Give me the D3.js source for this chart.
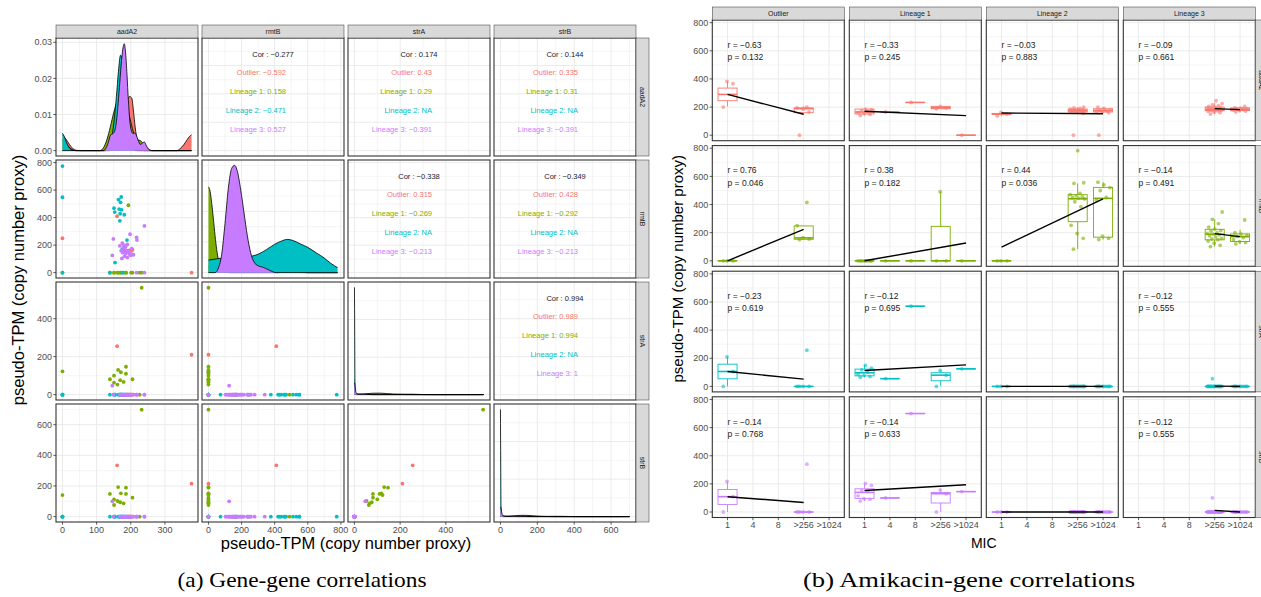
<!DOCTYPE html>
<html>
<head>
<meta charset="utf-8">
<script src="https://d3js.org/d3.v7.min.js"></script>
<style>
body { margin: 0; background: #fff; }
text { font-family: "Liberation Sans", Arial, sans-serif; }
</style>
</head>
<body>
<svg id="fig" width="1261" height="597"></svg>
<script>

// ---------------- data: (a) gene-gene ----------------
var genes = ['aadA2', 'rmtB', 'strA', 'strB'];
var lineages = ['Outlier', 'Lineage 1', 'Lineage 2', 'Lineage 3'];
var lineageColors = ['#F8766D', '#7CAE00', '#00BFC4', '#C77CFF'];
var geneMax = [378, 780, 565, 700];
var geneTicks = [[0, 100, 200, 300], [0, 200, 400, 600, 800], [0, 200, 400], [0, 200, 400, 600]];

// samples: [aadA2, rmtB, strA, strB]
var outlierSamples = [[378, 0, 210, 215], [160, 410, 255, 335], [0, 250, 0, 0], [190, 155, 0, 0],
  [195, 162, 0, 0], [200, 150, 0, 0], [205, 165, 0, 0]];
var lineage1Samples = [[0, 0, 123, 141], [232, 0, 563, 698], [139, 0, 81, 148], [151, 0, 100, 113],
  [151, 0, 63, 76], [163, 0, 130, 193], [161, 0, 53, 102], [171, 0, 118, 152], [186, 0, 147, 189],
  [186, 0, 110, 148], [169, 0, 76, 94], [179, 0, 67, 87], [205, 0, 81, 124], [193, 490, 0, 0],
  [201, 0, 0, 0], [226, 0, 0, 0]];
var lineage2Samples = [[0, 775, 0, 0], [0, 548, 0, 0], [172, 550, 0, 0], [164, 531, 0, 0], [170, 511, 0, 0],
  [151, 469, 0, 0], [166, 462, 0, 0], [173, 457, 0, 0], [153, 440, 0, 0], [169, 428, 0, 0], [181, 421, 0, 0],
  [168, 377, 0, 0], [189, 237, 0, 0], [182, 164, 0, 0], [175, 170, 0, 0], [154, 73, 0, 0], [139, 0, 0, 0],
  [176, 0, 0, 0], [0, 0, 0, 0]];
var lineage3Samples = [[240, 340, 0, 0], [198, 279, 0, 0], [217, 257, 0, 0], [218, 237, 0, 0], [149, 245, 0, 0],
  [174, 103, 0, 0], [175, 215, 0, 0], [180, 200, 0, 0], [185, 190, 0, 0], [190, 205, 0, 0], [178, 180, 0, 0],
  [183, 170, 0, 0], [188, 160, 0, 0], [193, 150, 0, 0], [198, 145, 0, 0], [203, 175, 0, 0], [196, 135, 0, 0],
  [172, 160, 0, 0], [185, 140, 0, 0], [200, 125, 0, 0], [208, 130, 0, 0], [168, 195, 0, 0], [176, 145, 0, 0],
  [182, 120, 0, 0], [190, 110, 0, 0], [146, 125, 47, 100], [217, 0, 0, 0], [240, 0, 0, 0]];

// densities on the diagonal: [value, density]
var aadA2DensOut = [[0, 0.0042], [10, 0.0032], [20, 0.0018], [30, 0.0006], [40, 0.0001], [55, 0], [140, 0],
  [150, 0.0015], [160, 0.004], [170, 0.0075], [180, 0.011], [190, 0.0142], [197, 0.015], [203, 0.0145],
  [208, 0.011], [213, 0.0065], [220, 0.0025], [230, 0.0006], [240, 0], [335, 0], [345, 0.0006], [355, 0.0016],
  [365, 0.003], [372, 0.0039], [378, 0.0044]];
var aadA2DensL1 = [[0, 0.003], [10, 0.002], [25, 0.0005], [40, 0], [110, 0], [120, 0.0008], [130, 0.003],
  [140, 0.0065], [150, 0.0105], [160, 0.0135], [170, 0.015], [180, 0.0145], [190, 0.012], [200, 0.008],
  [210, 0.0045], [220, 0.003], [228, 0.0028], [236, 0.002], [245, 0.001], [255, 0.0002], [265, 0], [378, 0]];
var aadA2DensL2 = [[0, 0.0048], [6, 0.0038], [12, 0.0022], [20, 0.0008], [30, 0.0001], [40, 0], [125, 0],
  [135, 0.001], [145, 0.004], [152, 0.009], [158, 0.015], [164, 0.022], [170, 0.0264], [175, 0.0255],
  [180, 0.021], [186, 0.013], [192, 0.006], [200, 0.0018], [210, 0.0002], [220, 0], [378, 0]];
var aadA2DensL3 = [[0, 0], [120, 0], [128, 0.0008], [135, 0.0025], [140, 0.0042], [146, 0.0046], [152, 0.0052],
  [158, 0.008], [163, 0.013], [168, 0.019], [173, 0.025], [178, 0.0288], [181, 0.0296], [185, 0.027],
  [189, 0.021], [193, 0.014], [197, 0.0085], [201, 0.0058], [206, 0.0048], [211, 0.0049], [216, 0.0043],
  [222, 0.0028], [228, 0.0017], [234, 0.0021], [240, 0.0024], [246, 0.0013], [252, 0.0004], [260, 0], [378, 0]];

// rmtB densities in units of 1e-3
var rmtBDensOut = [[0, 0.4], [80, 0.3], [160, 0.8], [250, 0.6], [410, 0.4], [500, 0.1], [600, 0], [780, 0]];
var rmtBDensL1 = [[0, 5.6], [10, 5.3], [20, 4.5], [30, 3.5], [40, 2.4], [50, 1.5], [60, 0.85], [80, 0.2],
  [100, 0.03], [130, 0], [420, 0], [460, 0.15], [490, 0.3], [560, 0.05], [600, 0], [780, 0]];
var rmtBDensL2 = [[0, 0.82], [50, 0.9], [100, 0.95], [150, 0.95], [200, 1.0], [250, 1.05], [300, 1.2],
  [350, 1.5], [400, 1.85], [450, 2.1], [476, 2.17], [510, 2.1], [560, 1.85], [600, 1.65], [650, 1.3],
  [700, 0.95], [740, 0.6], [780, 0.33]];
var rmtBDensL3 = [[0, 0], [40, 0], [60, 0.3], [80, 1.2], [100, 3.2], [120, 5.5], [140, 6.8], [158, 7.0],
  [175, 6.6], [195, 5.4], [215, 3.9], [235, 2.4], [255, 1.3], [275, 0.7], [300, 0.45], [330, 0.35],
  [360, 0.2], [390, 0.05], [410, 0], [780, 0]];

// strA / strB densities, relative to the spike at zero
var strADensOut = [[0, 0.006], [30, 0.004], [80, 0.001], [150, 0.002], [210, 0.004], [255, 0.004], [300, 0.001], [350, 0], [565, 0]];
var strADensL1 = [[0, 0.004], [20, 0.004], [50, 0.008], [80, 0.013], [110, 0.014], [140, 0.01], [170, 0.005], [220, 0.001], [300, 0], [540, 0.0005], [565, 0.001]];
var strADensL2 = [[0, 1], [1, 0.6], [2, 0.15], [3, 0.02], [5, 0], [565, 0]];
var strADensL3 = [[0, 0.11], [3, 0.08], [6, 0.03], [10, 0.008], [20, 0.003], [40, 0.004], [55, 0.002], [80, 0], [565, 0]];
var strBDensOut = [[0, 0.006], [40, 0.003], [100, 0.0005], [200, 0.002], [280, 0.003], [335, 0.003], [400, 0.0005], [450, 0], [700, 0]];
var strBDensL1 = [[0, 0.003], [40, 0.004], [80, 0.009], [110, 0.012], [140, 0.012], [170, 0.009], [200, 0.005], [250, 0.001], [300, 0], [650, 0], [700, 0.001]];
var strBDensL2 = [[0, 1], [1.5, 0.5], [3, 0.1], [5, 0.01], [8, 0], [700, 0]];
var strBDensL3 = [[0, 0.09], [4, 0.07], [8, 0.03], [14, 0.008], [30, 0.002], [100, 0.003], [130, 0.001], [160, 0], [700, 0]];

var diagMax = [0.0297, 7.0, 1, 1];
var diagTicks = [[0, 0.01, 0.02, 0.03], [0, 2, 4, 6], [0, 0.35, 0.7], [0, 0.35, 0.7]];

// upper triangle: [row, col, overall, outlier, lineage 1, lineage 2, lineage 3]
var corTable = [
  [0, 1, '\u22120.277', '\u22120.592', '0.158', '\u22120.471', '0.527'],
  [0, 2, '0.174', '0.43', '0.29', 'NA', '\u22120.391'],
  [0, 3, '0.144', '0.335', '0.31', 'NA', '\u22120.391'],
  [1, 2, '\u22120.338', '0.315', '\u22120.269', 'NA', '\u22120.213'],
  [1, 3, '\u22120.349', '0.428', '\u22120.292', 'NA', '\u22120.213'],
  [2, 3, '0.994', '0.989', '0.994', 'NA', '1']
];

// ---------------- data: (b) amikacin-gene ----------------
var micLevels = ['1', '4', '8', '>256', '>1024'];
var clusters = ['Outlier', 'Lineage 1', 'Lineage 2', 'Lineage 3'];
var yTicksB = [0, 200, 400, 600, 800];

// boxes: [cluster, mic, lower, q1, median, q3, upper]
var boxes_aadA2 = [[0, 0, 205, 245, 290, 335, 382], [0, 3, 158, 160, 189, 194, 205],
  [1, 0, 140, 151, 165, 186, 186], [1, 1, 165, 165, 165, 165, 165], [1, 2, 233, 233, 233, 233, 233],
  [1, 3, 188, 188, 195, 205, 205], [1, 4, 0, 0, 0, 0, 0],
  [2, 0, 137, 147, 151, 155, 163], [2, 3, 150, 165, 175, 186, 200], [2, 4, 160, 165, 175, 188, 200],
  [3, 3, 150, 175, 183, 200, 230], [3, 4, 165, 175, 184, 194, 205]];
var boxes_rmtB = [[0, 0, 0, 0, 0, 0, 0], [0, 3, 150, 153, 163, 248, 250],
  [1, 0, 0, 0, 0, 0, 0], [1, 1, 0, 0, 0, 0, 0], [1, 2, 0, 0, 0, 0, 0], [1, 3, 0, 0, 0, 245, 491], [1, 4, 0, 0, 0, 0, 0],
  [2, 0, 0, 0, 0, 0, 0], [2, 3, 83, 278, 441, 470, 550], [2, 4, 151, 168, 444, 522, 559],
  [3, 3, 101, 149, 189, 224, 295], [3, 4, 120, 137, 172, 191, 220]];
var boxes_strA = [[0, 0, 0, 54, 106, 158, 210], [0, 3, 0, 0, 0, 0, 0],
  [1, 0, 65, 75, 97, 123, 153], [1, 1, 55, 55, 55, 55, 55], [1, 2, 570, 570, 570, 570, 570],
  [1, 3, 0, 40, 80, 97, 113], [1, 4, 125, 125, 125, 125, 125],
  [2, 0, 0, 0, 0, 0, 0], [2, 3, 0, 0, 0, 0, 0], [2, 4, 0, 0, 0, 0, 0],
  [3, 3, 0, 0, 0, 0, 0], [3, 4, 0, 0, 0, 0, 0]];
var boxes_strB = [[0, 0, 0, 54, 109, 160, 217], [0, 3, 0, 0, 0, 0, 0],
  [1, 0, 78, 97, 139, 165, 203], [1, 1, 100, 100, 100, 100, 100], [1, 2, 700, 700, 700, 700, 700],
  [1, 3, 0, 64, 130, 139, 158], [1, 4, 145, 145, 145, 145, 145],
  [2, 0, 0, 0, 0, 0, 0], [2, 3, 0, 0, 0, 0, 0], [2, 4, 0, 0, 0, 0, 0],
  [3, 3, 0, 0, 0, 0, 0], [3, 4, 0, 0, 0, 0, 0]];

// jittered points: [cluster, mic, values]
var pts_aadA2 = [[0, 0, [200, 366, 382]], [0, 3, [0, 165, 185, 195, 200]],
  [1, 0, [140, 148, 155, 160, 168, 175, 180, 186]], [1, 1, [165]], [1, 2, [233]], [1, 3, [188, 195, 205]], [1, 4, [0]],
  [2, 0, [137, 150, 163]],
  [2, 3, [0, 155, 163, 168, 170, 172, 175, 176, 178, 180, 182, 185, 190, 195, 200]],
  [2, 4, [0, 160, 168, 172, 175, 178, 182, 190, 200]],
  [3, 3, [150, 160, 165, 170, 172, 175, 178, 180, 182, 184, 186, 188, 190, 193, 196, 200, 205, 210, 215, 225, 245]],
  [3, 4, [165, 172, 175, 178, 182, 185, 188, 190, 195, 205]]];
var pts_rmtB = [[0, 0, [0, 0, 0]], [0, 3, [150, 155, 165, 250, 415]],
  [1, 0, [0, 0, 0, 0, 0, 0, 0, 0]], [1, 1, [0]], [1, 2, [0]], [1, 3, [0, 0, 491]], [1, 4, [0]],
  [2, 0, [0, 0, 0]],
  [2, 3, [83, 160, 194, 252, 385, 420, 440, 445, 450, 455, 462, 470, 480, 550, 555, 783]],
  [2, 4, [151, 160, 175, 430, 450, 500, 520, 540, 559]],
  [3, 3, [101, 110, 125, 140, 150, 155, 160, 170, 178, 185, 190, 195, 200, 210, 215, 225, 240, 265, 295, 347]],
  [3, 4, [120, 130, 137, 150, 165, 172, 180, 190, 200, 290]]];
var pts_strA = [[0, 0, [0, 106, 210]], [0, 3, [0, 0, 0, 0, 257]],
  [1, 0, [65, 70, 78, 85, 100, 118, 130, 150]], [1, 1, [55]], [1, 2, [570]], [1, 3, [0, 80, 113]], [1, 4, [125]],
  [2, 0, [0, 0, 0]], [2, 3, [0, 0, 0, 0, 0, 0, 0, 0, 0, 0, 0, 0, 0, 0, 0]], [2, 4, [0, 0, 0, 0, 0, 0, 0, 0, 0]],
  [3, 3, [0, 0, 0, 0, 0, 0, 0, 0, 0, 0, 0, 0, 0, 0, 0, 0, 0, 0, 55]], [3, 4, [0, 0, 0, 0, 0, 0, 0, 0, 0]]];
var pts_strB = [[0, 0, [0, 109, 217]], [0, 3, [0, 0, 0, 0, 340]],
  [1, 0, [78, 90, 95, 115, 148, 152, 190, 203]], [1, 1, [100]], [1, 2, [700]], [1, 3, [0, 130, 158]], [1, 4, [145]],
  [2, 0, [0, 0, 0]], [2, 3, [0, 0, 0, 0, 0, 0, 0, 0, 0, 0, 0, 0, 0, 0, 0]], [2, 4, [0, 0, 0, 0, 0, 0, 0, 0, 0]],
  [3, 3, [0, 0, 0, 0, 0, 0, 0, 0, 0, 0, 0, 0, 0, 0, 0, 0, 0, 0, 101]], [3, 4, [0, 0, 0, 0, 0, 0, 0, 0, 0]]];

// linear fit: [cluster, micFrom, yFrom, micTo, yTo]
var fit_aadA2 = [[0, 0, 290, 3, 149], [1, 0, 170, 4, 139], [2, 0, 158, 4, 153], [3, 3, 189, 4, 182]];
var fit_rmtB = [[0, 0, 0, 3, 224], [1, 0, 0, 4, 127], [2, 0, 97, 4, 441], [3, 3, 193, 4, 172]];
var fit_strA = [[0, 0, 106, 3, 52], [1, 0, 113, 4, 153], [2, 0, 0, 4, 0], [3, 3, 2, 4, 0]];
var fit_strB = [[0, 0, 109, 3, 68], [1, 0, 153, 4, 194], [2, 0, 0, 4, 0], [3, 3, 12, 4, 0]];

// [cluster, r, p]
var stats_aadA2 = [[0, '\u22120.63', '0.132'], [1, '\u22120.33', '0.245'], [2, '\u22120.03', '0.883'], [3, '\u22120.09', '0.661']];
var stats_rmtB = [[0, '0.76', '0.046'], [1, '0.38', '0.182'], [2, '0.44', '0.036'], [3, '\u22120.14', '0.491']];
var stats_strA = [[0, '\u22120.23', '0.619'], [1, '\u22120.12', '0.695'], [3, '\u22120.12', '0.555']];
var stats_strB = [[0, '\u22120.14', '0.768'], [1, '\u22120.14', '0.633'], [3, '\u22120.12', '0.555']];

// ---------------- helpers ----------------
var svg = d3.select('#fig');
var tickFont = 9, tickCol = '#4d4d4d', lineCol = '#333333', gridCol = '#ebebeb';

function expand(lo, hi) { var d = (hi - lo) * 0.05; return [lo - d, hi + d]; }
function minorsOf(ticks, dom) {
  var step = ticks[1] - ticks[0], out = [];
  for (var v = ticks[0] - step / 2; v <= dom[1] + 1e-12; v += step) if (v >= dom[0]) out.push(v);
  return out;
}
function drawGrid(g, xs, ys, xt, yt, w, h, xMinor) {
  var yDom = ys.domain();
  g.selectAll(null).data(minorsOf(yt, yDom)).enter().append('line')
    .attr('x1', 0).attr('x2', w).attr('y1', ys).attr('y2', ys)
    .attr('stroke', gridCol).attr('stroke-width', 0.5);
  if (xMinor) {
    g.selectAll(null).data(minorsOf(xt, xs.domain())).enter().append('line')
      .attr('y1', 0).attr('y2', h).attr('x1', xs).attr('x2', xs)
      .attr('stroke', gridCol).attr('stroke-width', 0.5);
  }
  g.selectAll(null).data(yt).enter().append('line')
    .attr('x1', 0).attr('x2', w).attr('y1', ys).attr('y2', ys)
    .attr('stroke', gridCol).attr('stroke-width', 1);
  g.selectAll(null).data(xt).enter().append('line')
    .attr('y1', 0).attr('y2', h).attr('x1', xs).attr('x2', xs)
    .attr('stroke', gridCol).attr('stroke-width', 1);
}
function frame(g, w, h) {
  g.append('rect').attr('width', w).attr('height', h)
    .attr('fill', 'none').attr('stroke', lineCol).attr('stroke-width', 1.1);
}
function strip(parent, x, y, w, h, label, vertical) {
  parent.append('rect').attr('x', x).attr('y', y).attr('width', w).attr('height', h)
    .attr('fill', '#d9d9d9').attr('stroke', lineCol).attr('stroke-width', 0.5);
  var t = parent.append('text').text(label).attr('font-size', 7).attr('fill', '#1a1a1a')
    .attr('text-anchor', 'middle').attr('dy', '0.35em');
  if (vertical) t.attr('transform', 'translate(' + (x + w / 2) + ',' + (y + h / 2) + ') rotate(90)');
  else t.attr('x', x + w / 2).attr('y', y + h / 2);
}

// ---------------- (a) gene-gene correlations ----------------
var LP = { x0: 56, y0: 38, w: 142, h: 118, gap: 4 };
function lx(c) { return LP.x0 + c * (LP.w + LP.gap); }
function ly(r) { return LP.y0 + r * (LP.h + LP.gap); }
var lineageSamples = [outlierSamples, lineage1Samples, lineage2Samples, lineage3Samples];
var diagDens = [
  [aadA2DensOut, aadA2DensL1, aadA2DensL2, aadA2DensL3],
  [rmtBDensOut, rmtBDensL1, rmtBDensL2, rmtBDensL3],
  [strADensOut, strADensL1, strADensL2, strADensL3],
  [strBDensOut, strBDensL1, strBDensL2, strBDensL3]
];
var geneDomain = geneMax.map(function (m) { return expand(0, m); });
var left = svg.append('g');

genes.forEach(function (rg, r) {
  genes.forEach(function (cg, c) {
    var g = left.append('g').attr('transform', 'translate(' + lx(c) + ',' + ly(r) + ')');
    g.append('rect').attr('width', LP.w).attr('height', LP.h).attr('fill', '#fff');
    var xs = d3.scaleLinear().domain(geneDomain[c]).range([0, LP.w]);
    var ys, yt;
    if (r === c) {
      ys = d3.scaleLinear().domain(expand(0, diagMax[r])).range([LP.h, 0]);
      yt = diagTicks[r];
    } else {
      ys = d3.scaleLinear().domain(geneDomain[r]).range([LP.h, 0]);
      yt = geneTicks[r];
    }
    drawGrid(g, xs, ys, geneTicks[c], yt, LP.w, LP.h, true);

    if (r === c) {
      var area = d3.area().x(function (d) { return xs(d[0]); }).y0(ys(0))
        .y1(function (d) { return ys(d[1]); }).curve(d3.curveMonotoneX);
      var line = d3.line().x(function (d) { return xs(d[0]); })
        .y(function (d) { return ys(d[1]); }).curve(d3.curveMonotoneX);
      diagDens[r].forEach(function (dens, k) {
        g.append('path').attr('d', area(dens)).attr('fill', lineageColors[k]);
        g.append('path').attr('d', line(dens)).attr('fill', 'none')
          .attr('stroke', '#000').attr('stroke-width', 0.8);
      });
    } else if (r > c) {
      lineageSamples.forEach(function (arr, k) {
        g.selectAll(null).data(arr).enter().append('circle')
          .attr('cx', function (d) { return xs(d[c]); })
          .attr('cy', function (d) { return ys(d[r]); })
          .attr('r', 1.9).attr('fill', lineageColors[k]);
      });
    } else {
      var row = corTable.filter(function (d) { return d[0] === r && d[1] === c; })[0];
      var cx = LP.w / 2;
      g.append('text').attr('x', cx).attr('y', 16).attr('dy', '0.35em')
        .attr('text-anchor', 'middle').attr('font-size', 7.5).attr('fill', '#1a1a1a')
        .text('Cor : ' + row[2]);
      lineages.forEach(function (ln, k) {
        g.append('text').attr('x', cx + 13).attr('y', 16 + 18.8 * (k + 1)).attr('dy', '0.35em')
          .attr('text-anchor', 'end').attr('font-size', 7.5).attr('fill', lineageColors[k])
          .text(ln + ': ' + row[3 + k]);
      });
    }
    frame(g, LP.w, LP.h);

    // axes
    if (c === 0) {
      var fmt = r === 0 ? d3.format('.2f') : d3.format('d');
      g.selectAll(null).data(yt).enter().append('line')
        .attr('x1', -2.7).attr('x2', 0).attr('y1', ys).attr('y2', ys)
        .attr('stroke', lineCol).attr('stroke-width', 0.8);
      g.selectAll(null).data(yt).enter().append('text')
        .attr('x', -4).attr('y', ys).attr('dy', '0.35em').attr('text-anchor', 'end')
        .attr('font-size', tickFont).attr('fill', tickCol).text(fmt);
    }
    if (r === 3) {
      g.selectAll(null).data(geneTicks[c]).enter().append('line')
        .attr('y1', LP.h).attr('y2', LP.h + 2.7).attr('x1', xs).attr('x2', xs)
        .attr('stroke', lineCol).attr('stroke-width', 0.8);
      g.selectAll(null).data(geneTicks[c]).enter().append('text')
        .attr('x', xs).attr('y', LP.h + 4).attr('dy', '0.75em').attr('text-anchor', 'middle')
        .attr('font-size', tickFont).attr('fill', tickCol).text(function (d) { return d; });
    }
  });
  strip(left, lx(r), LP.y0 - 13, LP.w, 13, rg, false);
  strip(left, lx(3) + LP.w, ly(r), 13, LP.h, rg, true);
});

left.append('text').attr('x', (lx(0) + lx(3) + LP.w) / 2).attr('y', 549)
  .attr('text-anchor', 'middle').attr('font-size', 16.5).attr('fill', '#000')
  .text('pseudo-TPM (copy number proxy)');
left.append('text').attr('transform', 'translate(24,' + (LP.y0 + ly(3) + LP.h) / 2 + ') rotate(-90)')
  .attr('text-anchor', 'middle').attr('font-size', 16.5).attr('fill', '#000')
  .text('pseudo-TPM (copy number proxy)');

// ---------------- (b) amikacin-gene correlations ----------------
var RP = { x0: 712.3, y0: 20, w: 132, h: 120.7, dx: 137, dy: 125.6 };
var ry = d3.scaleLinear().domain(expand(0, 780)).range([RP.h, 0]);
var rx = d3.scalePoint().domain(d3.range(micLevels.length)).range([0, RP.w]).padding(0.6);
var bw = rx.step() * 0.75;
var geneBoxes = [boxes_aadA2, boxes_rmtB, boxes_strA, boxes_strB];
var genePts = [pts_aadA2, pts_rmtB, pts_strA, pts_strB];
var geneFits = [fit_aadA2, fit_rmtB, fit_strA, fit_strB];
var geneStats = [stats_aadA2, stats_rmtB, stats_strA, stats_strB];
var right = svg.append('g');

function jit(i) { return (((i * 0.6180339 + 0.23) % 1) - 0.5) * 0.62 * rx.step(); }

genes.forEach(function (gname, r) {
  var col = lineageColors[r];
  clusters.forEach(function (cl, c) {
    var g = right.append('g')
      .attr('transform', 'translate(' + (RP.x0 + c * RP.dx) + ',' + (RP.y0 + r * RP.dy) + ')');
    g.append('rect').attr('width', RP.w).attr('height', RP.h).attr('fill', '#fff');
    drawGrid(g, rx, ry, d3.range(micLevels.length), yTicksB, RP.w, RP.h, false);

    var bx = geneBoxes[r].filter(function (d) { return d[0] === c; });
    var bg = g.selectAll(null).data(bx).enter().append('g');
    bg.append('line').attr('x1', function (d) { return rx(d[1]); }).attr('x2', function (d) { return rx(d[1]); })
      .attr('y1', function (d) { return ry(d[2]); }).attr('y2', function (d) { return ry(d[3]); })
      .attr('stroke', col).attr('stroke-width', 0.9);
    bg.append('line').attr('x1', function (d) { return rx(d[1]); }).attr('x2', function (d) { return rx(d[1]); })
      .attr('y1', function (d) { return ry(d[5]); }).attr('y2', function (d) { return ry(d[6]); })
      .attr('stroke', col).attr('stroke-width', 0.9);
    bg.append('rect').attr('x', function (d) { return rx(d[1]) - bw / 2; }).attr('width', bw)
      .attr('y', function (d) { return ry(d[5]); })
      .attr('height', function (d) { return Math.max(0.01, ry(d[3]) - ry(d[5])); })
      .attr('fill', '#fff').attr('stroke', col).attr('stroke-width', 0.9);
    bg.append('line').attr('x1', function (d) { return rx(d[1]) - bw / 2; })
      .attr('x2', function (d) { return rx(d[1]) + bw / 2; })
      .attr('y1', function (d) { return ry(d[4]); }).attr('y2', function (d) { return ry(d[4]); })
      .attr('stroke', col).attr('stroke-width', 1.6);

    genePts[r].filter(function (d) { return d[0] === c; }).forEach(function (grp) {
      g.selectAll(null).data(grp[2]).enter().append('circle')
        .attr('cx', function (d, i) { return rx(grp[1]) + jit(i); })
        .attr('cy', function (d) { return ry(d); })
        .attr('r', 1.9).attr('fill', col).attr('fill-opacity', 0.6);
    });

    geneFits[r].filter(function (d) { return d[0] === c; }).forEach(function (f) {
      g.append('line').attr('x1', rx(f[1])).attr('y1', ry(f[2])).attr('x2', rx(f[3])).attr('y2', ry(f[4]))
        .attr('stroke', '#000').attr('stroke-width', 1.4);
    });

    geneStats[r].filter(function (d) { return d[0] === c; }).forEach(function (s) {
      g.append('text').attr('x', rx(0)).attr('y', ry(642)).attr('dy', '0.35em')
        .attr('font-size', 8.5).attr('fill', '#1a1a1a').text('r = ' + s[1]);
      g.append('text').attr('x', rx(0)).attr('y', ry(555)).attr('dy', '0.35em')
        .attr('font-size', 8.5).attr('fill', '#1a1a1a').text('p = ' + s[2]);
    });
    frame(g, RP.w, RP.h);

    if (c === 0) {
      g.selectAll(null).data(yTicksB).enter().append('line')
        .attr('x1', -2.7).attr('x2', 0).attr('y1', ry).attr('y2', ry)
        .attr('stroke', lineCol).attr('stroke-width', 0.8);
      g.selectAll(null).data(yTicksB).enter().append('text')
        .attr('x', -4).attr('y', ry).attr('dy', '0.35em').attr('text-anchor', 'end')
        .attr('font-size', tickFont).attr('fill', tickCol).text(function (d) { return d; });
    }
    if (r === 3) {
      g.selectAll(null).data(d3.range(micLevels.length)).enter().append('line')
        .attr('y1', RP.h).attr('y2', RP.h + 2.7).attr('x1', rx).attr('x2', rx)
        .attr('stroke', lineCol).attr('stroke-width', 0.8);
      g.selectAll(null).data(d3.range(micLevels.length)).enter().append('text')
        .attr('x', rx).attr('y', RP.h + 4).attr('dy', '0.75em').attr('text-anchor', 'middle')
        .attr('font-size', tickFont).attr('fill', tickCol).text(function (d) { return micLevels[d]; });
    }
    if (r === 0) strip(right, RP.x0 + c * RP.dx, RP.y0 - 13, RP.w, 13, cl, false);
  });
  strip(right, RP.x0 + 3 * RP.dx + RP.w, RP.y0 + r * RP.dy, 13, RP.h, gname, true);
});

right.append('text').attr('x', RP.x0 + (3 * RP.dx + RP.w) / 2).attr('y', 548)
  .attr('text-anchor', 'middle').attr('font-size', 14).attr('fill', '#000').text('MIC');
right.append('text').attr('transform', 'translate(683,' + (RP.y0 + (3 * RP.dy + RP.h) / 2) + ') rotate(-90)')
  .attr('text-anchor', 'middle').attr('font-size', 15).attr('fill', '#000')
  .text('pseudo-TPM (copy number proxy)');

// ---------------- captions ----------------
svg.append('text').attr('x', 302).attr('y', 587).attr('text-anchor', 'middle')
  .style('font-family', '"Liberation Serif", "DejaVu Serif", serif').attr('font-size', 21)
  .attr('textLength', 249).attr('lengthAdjust', 'spacingAndGlyphs')
  .text('(a) Gene-gene correlations');
svg.append('text').attr('x', 969).attr('y', 587).attr('text-anchor', 'middle')
  .style('font-family', '"Liberation Serif", "DejaVu Serif", serif').attr('font-size', 21)
  .attr('textLength', 332).attr('lengthAdjust', 'spacingAndGlyphs')
  .text('(b) Amikacin-gene correlations');

</script>
</body>
</html>
